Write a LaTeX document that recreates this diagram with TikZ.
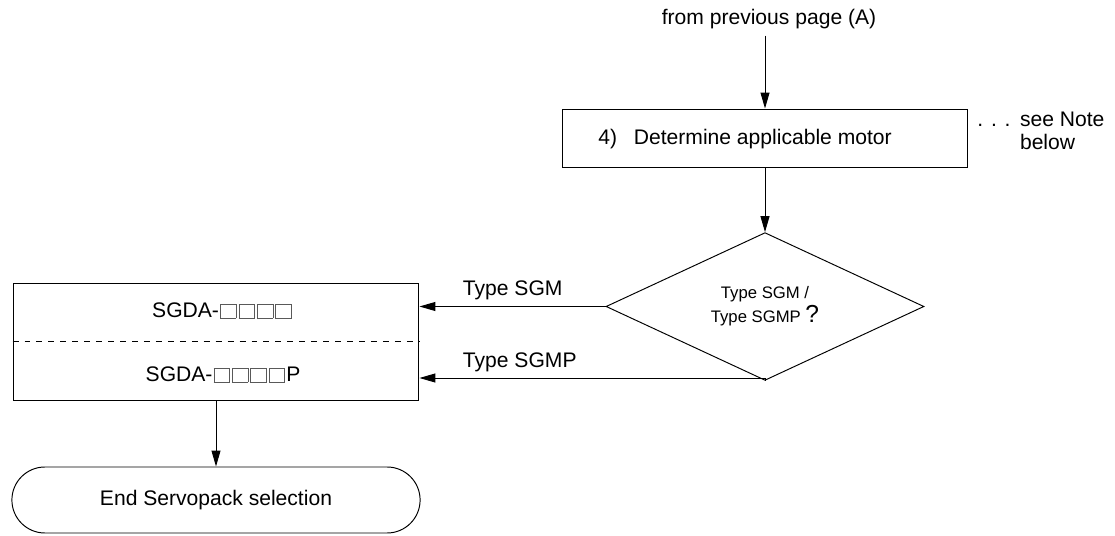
\documentclass[tikz,border=0pt]{standalone}
\usepackage{fontspec}
\setmainfont{Liberation Sans}
\usetikzlibrary{arrows.meta,shapes.geometric,shapes.misc}

% open square placeholder for the model code
\newcommand{\bx}{\hspace{0.6pt}{\color{black!65}\fboxsep=0pt\fboxrule=0.45pt\fbox{\rule{0pt}{7.8pt}\hspace{8.4pt}}}\hspace{0.6pt}}

\begin{document}
\begin{tikzpicture}[x=0.02cm, y=-0.02cm,
  font=\fontsize{12}{14}\selectfont,
  proc/.style={draw, line width=0.55pt, minimum width=8.12cm, minimum height=1.16cm},
  decide/.style={draw, diamond, line width=0.55pt, minimum width=6.36cm, minimum height=2.46cm,
                 inner sep=0pt, align=center, font=\fontsize{9.5}{13.6}\selectfont},
  result/.style={draw, line width=0.55pt, minimum width=8.12cm, minimum height=2.34cm},
  branch/.style={anchor=base west, inner sep=0pt},
  term/.style={draw, rounded rectangle, line width=0.55pt, minimum width=8.4cm, minimum height=1.32cm},
  flow/.style={-{Triangle[length=0.32cm, width=0.18cm]}, line width=0.55pt},
]
\useasboundingbox (0,0) rectangle (1115,536);

\node[anchor=base] (prev) at (769,25) {from previous page (A)};
\node[proc] (det) at (765,138) {};
\node[anchor=base] (dettxt) at (745,145) {4)\hspace{0.8em}Determine applicable motor};
\node[anchor=west, align=left, inner sep=0pt, font=\fontsize{12}{13}\selectfont] (note) at (977,131)
  {. . .\hspace{0.45em}see Note\\\phantom{. . .\hspace{0.45em}}below};

\node[decide] (dm) at (765,306.5) {Type SGM /\\Type SGMP {\fontsize{14}{12}\selectfont ?}};

\node[result] (sgda) at (216,341.5) {};
\node[anchor=base] (sgm) at (222,318) {SGDA-\bx\bx\bx\bx};
\node[anchor=base] (sgmp) at (223,382) {SGDA-\bx\bx\bx\bx P};
\draw[line width=0.55pt, dash pattern=on 3.4pt off 3.4pt] (sgda.west) -- (sgda.east);

\node[term] (end) at (216,500) {End Servopack selection};

\coordinate (turn) at (765,378);

\draw[flow] (prev.south -| det.north) -- (det.north);
\draw[flow] (det.south -| dm.north) -- (dm.north);
\draw[flow] (dm.west) -- (sgda.east |- dm.west)
  node[branch, pos=1, xshift=0.86cm, yshift=0.22cm] {Type SGM};
\draw[flow] (dm.south) -- (turn) -- (sgda.east |- turn)
  node[branch, pos=1, xshift=0.86cm, yshift=0.22cm] {Type SGMP};
\draw[flow] (sgda.south) -- (end.north);

\end{tikzpicture}
\end{document}
